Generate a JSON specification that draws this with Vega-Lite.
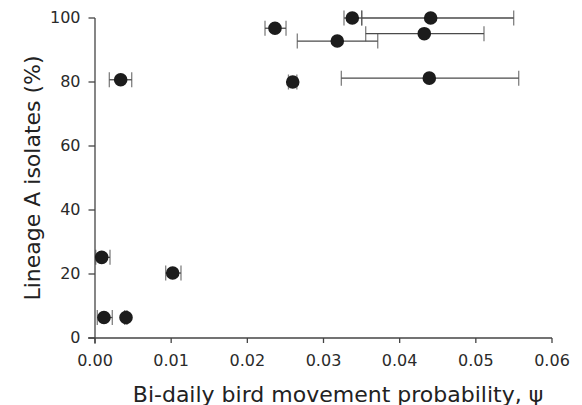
{
  "$schema": "https://vega.github.io/schema/vega-lite/v6.json",
  "width": 457,
  "height": 320,
  "autosize": {"type": "none"},
  "padding": {"left": 95, "top": 18, "right": 30, "bottom": 67},
  "background": "white",
  "config": {
    "view": {"stroke": null},
    "font": "DejaVu Sans"
  },
  "datasets": {
    "points": [
      {"psi": 0.03378, "lineageA": 100, "lo": 0.03269, "hi": 0.03502},
      {"psi": 0.04407, "lineageA": 100, "lo": 0.03502, "hi": 0.05497},
      {"psi": 0.02363, "lineageA": 96.8, "lo": 0.02232, "hi": 0.02508},
      {"psi": 0.04323, "lineageA": 95.1, "lo": 0.03554, "hi": 0.05107},
      {"psi": 0.03181, "lineageA": 92.8, "lo": 0.02656, "hi": 0.03712},
      {"psi": 0.00337, "lineageA": 80.7, "lo": 0.00188, "hi": 0.00482},
      {"psi": 0.02596, "lineageA": 80.0, "lo": 0.0254, "hi": 0.0265},
      {"psi": 0.04389, "lineageA": 81.2, "lo": 0.03234, "hi": 0.05563},
      {"psi": 0.00088, "lineageA": 25.2, "lo": 0.0001, "hi": 0.00197},
      {"psi": 0.0102, "lineageA": 20.3, "lo": 0.00928, "hi": 0.01129},
      {"psi": 0.00118, "lineageA": 6.4, "lo": 0.0003, "hi": 0.00227},
      {"psi": 0.00407, "lineageA": 6.4, "lo": 0.0039, "hi": 0.0042}
    ],
    "axisLines": [
      {"x": 0, "x2": 0, "y": -1.8, "y2": 100},
      {"x": -0.0009, "x2": 0.06, "y": 0, "y2": 0}
    ],
    "yTicks": [
      {"x": 0, "y": 0, "label": "0"},
      {"x": 0, "y": 20, "label": "20"},
      {"x": 0, "y": 40, "label": "40"},
      {"x": 0, "y": 60, "label": "60"},
      {"x": 0, "y": 80, "label": "80"},
      {"x": 0, "y": 100, "label": "100"}
    ],
    "xTicks": [
      {"x": 0, "y": 0, "label": "0.00"},
      {"x": 0.01, "y": 0, "label": "0.01"},
      {"x": 0.02, "y": 0, "label": "0.02"},
      {"x": 0.03, "y": 0, "label": "0.03"},
      {"x": 0.04, "y": 0, "label": "0.04"},
      {"x": 0.05, "y": 0, "label": "0.05"},
      {"x": 0.06, "y": 0, "label": "0.06"}
    ],
    "xTitle": [
      {"x": 0.0319, "y": 0, "label": "Bi-daily bird movement probability, ψ"}
    ],
    "yTitle": [
      {"x": 0, "y": 50, "label": "Lineage A isolates (%)"}
    ]
  },
  "layer": [
    {
      "data": {"name": "axisLines"},
      "mark": {"type": "rule", "color": "#444444", "strokeWidth": 1.3},
      "encoding": {
        "x": {"field": "x", "type": "quantitative", "scale": {"domain": [0, 0.06], "nice": false, "zero": false}, "axis": null},
        "x2": {"field": "x2"},
        "y": {"field": "y", "type": "quantitative", "scale": {"domain": [0, 100], "nice": false, "zero": false}, "axis": null},
        "y2": {"field": "y2"}
      }
    },
    {
      "data": {"name": "yTicks"},
      "mark": {"type": "tick", "orient": "horizontal", "color": "#444444", "thickness": 1.3, "size": 6.5, "xOffset": -3.25, "opacity": 1},
      "encoding": {
        "x": {"field": "x", "type": "quantitative", "scale": {"domain": [0, 0.06], "nice": false, "zero": false}, "axis": null},
        "y": {"field": "y", "type": "quantitative", "scale": {"domain": [0, 100], "nice": false, "zero": false}, "axis": null}
      }
    },
    {
      "data": {"name": "xTicks"},
      "mark": {"type": "tick", "orient": "vertical", "color": "#444444", "thickness": 1.3, "size": 5, "yOffset": 2.5, "opacity": 1},
      "encoding": {
        "x": {"field": "x", "type": "quantitative", "scale": {"domain": [0, 0.06], "nice": false, "zero": false}, "axis": null},
        "y": {"field": "y", "type": "quantitative", "scale": {"domain": [0, 100], "nice": false, "zero": false}, "axis": null}
      }
    },
    {
      "data": {"name": "yTicks"},
      "mark": {"type": "text", "align": "right", "baseline": "middle", "dx": -14.5, "font": "DejaVu Sans", "fontSize": 16, "color": "#2a2a2a"},
      "encoding": {
        "x": {"field": "x", "type": "quantitative", "scale": {"domain": [0, 0.06], "nice": false, "zero": false}, "axis": null},
        "y": {"field": "y", "type": "quantitative", "scale": {"domain": [0, 100], "nice": false, "zero": false}, "axis": null},
        "text": {"field": "label"}
      }
    },
    {
      "data": {"name": "xTicks"},
      "mark": {"type": "text", "align": "center", "baseline": "top", "dy": 15, "font": "DejaVu Sans", "fontSize": 16, "color": "#2a2a2a"},
      "encoding": {
        "x": {"field": "x", "type": "quantitative", "scale": {"domain": [0, 0.06], "nice": false, "zero": false}, "axis": null},
        "y": {"field": "y", "type": "quantitative", "scale": {"domain": [0, 100], "nice": false, "zero": false}, "axis": null},
        "text": {"field": "label"}
      }
    },
    {
      "data": {"name": "xTitle"},
      "mark": {"type": "text", "align": "center", "baseline": "alphabetic", "dy": 63.5, "font": "DejaVu Sans", "fontSize": 22, "color": "#222222"},
      "encoding": {
        "x": {"field": "x", "type": "quantitative", "scale": {"domain": [0, 0.06], "nice": false, "zero": false}, "axis": null},
        "y": {"field": "y", "type": "quantitative", "scale": {"domain": [0, 100], "nice": false, "zero": false}, "axis": null},
        "text": {"field": "label"}
      }
    },
    {
      "data": {"name": "yTitle"},
      "mark": {"type": "text", "align": "center", "baseline": "alphabetic", "angle": 270, "dy": -55, "font": "DejaVu Sans", "fontSize": 22, "color": "#222222"},
      "encoding": {
        "x": {"field": "x", "type": "quantitative", "scale": {"domain": [0, 0.06], "nice": false, "zero": false}, "axis": null},
        "y": {"field": "y", "type": "quantitative", "scale": {"domain": [0, 100], "nice": false, "zero": false}, "axis": null},
        "text": {"field": "label"}
      }
    },
    {
      "data": {"name": "points"},
      "mark": {
        "type": "errorbar",
        "color": "#4a4a4a",
        "thickness": 1.3,
        "ticks": {"size": 15, "thickness": 1.3, "color": "#4a4a4a"}
      },
      "encoding": {
        "x": {"field": "lo", "type": "quantitative", "scale": {"domain": [0, 0.06], "nice": false, "zero": false}, "axis": null},
        "x2": {"field": "hi"},
        "y": {"field": "lineageA", "type": "quantitative", "scale": {"domain": [0, 100], "nice": false, "zero": false}, "axis": null}
      }
    },
    {
      "data": {"name": "points"},
      "mark": {"type": "point", "filled": true, "size": 185, "opacity": 1, "color": "#1c1c1c"},
      "encoding": {
        "x": {"field": "psi", "type": "quantitative", "scale": {"domain": [0, 0.06], "nice": false, "zero": false}, "axis": null},
        "y": {"field": "lineageA", "type": "quantitative", "scale": {"domain": [0, 100], "nice": false, "zero": false}, "axis": null}
      }
    }
  ]
}
